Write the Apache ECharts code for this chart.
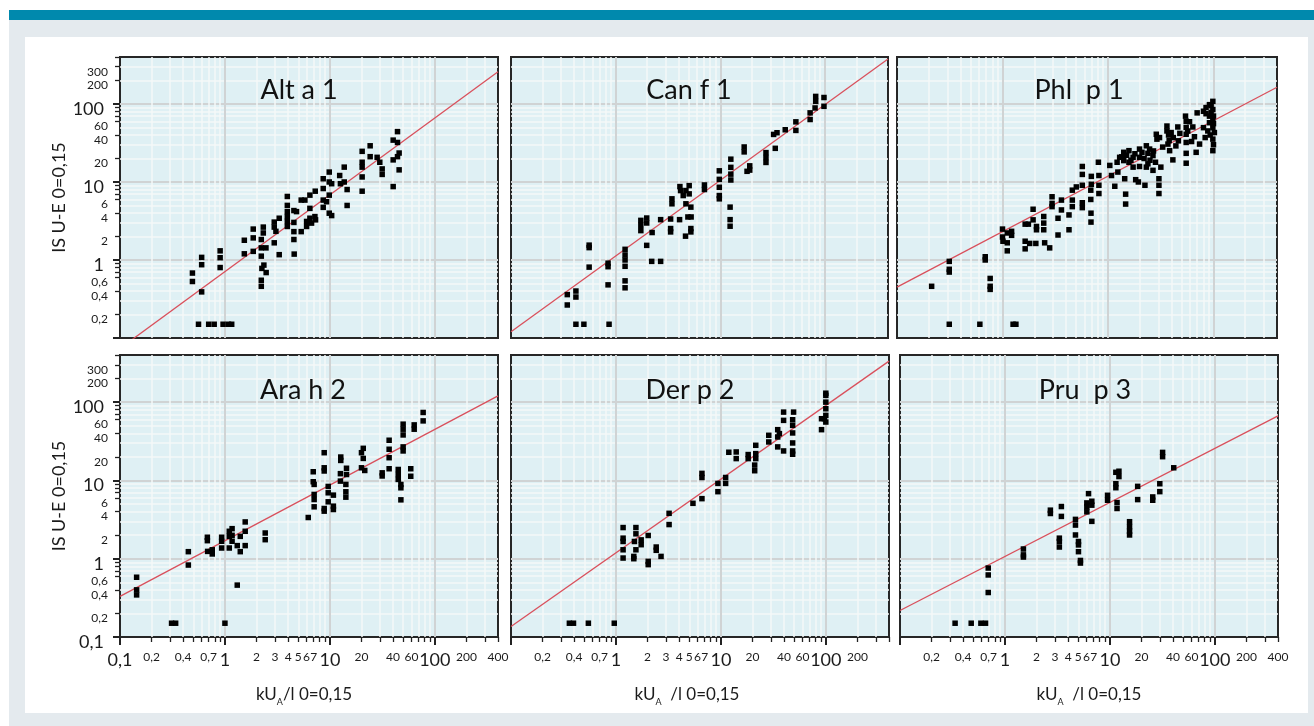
<!DOCTYPE html>
<html><head><meta charset="utf-8">
<script src="https://cdn.jsdelivr.net/npm/echarts@6/dist/echarts.min.js"></script>
<style>
html,body{margin:0;padding:0;width:1314px;height:726px;background:#fff;overflow:hidden}
#bar{position:absolute;left:9px;top:10px;width:1305px;height:10px;background:#0089ad}
#frame{position:absolute;left:9px;top:20px;width:1305px;height:706px;background:#e4eaee}
#inner{position:absolute;left:25px;top:37px;width:1283px;height:676px;background:#fff}
#chart{position:absolute;left:0;top:0;width:1314px;height:726px}
</style></head><body>
<div id="bar"></div><div id="frame"></div><div id="inner"></div><div id="chart"></div>
<script>
// ---------- data ----------
const panelTitles = ['Alt a 1', 'Can f 1', 'Phl  p 1', 'Ara h 2', 'Der p 2', 'Pru  p 3'];

const altA1 = [
[0.56,0.15],[0.70,0.15],[0.79,0.15],[0.96,0.15],[1.08,0.15],[1.16,0.15],
[0.49,0.68],[0.49,0.53],[0.60,1.08],[0.60,0.87],[0.60,0.39],[0.90,1.31],[0.90,1.07],[0.90,0.80],
[1.53,1.79],[1.53,1.20],[1.86,2.49],[1.86,1.92],[1.86,1.29],[2.22,1.83],[2.22,1.43],[2.22,1.12],[2.32,2.64],[2.32,2.22],[2.46,1.43],[2.25,0.78],[2.35,0.86],[2.47,0.69],[2.22,0.55],[2.22,0.46],
[2.95,3.06],[2.95,2.64],[3.06,2.33],[2.95,1.66],[3.29,3.43],[3.29,1.17],
[3.93,6.52],[3.93,5.01],[3.93,4.17],[3.93,3.6],[3.93,3.12],[3.93,2.69],
[4.54,4.30],[4.81,4.17],[4.54,3.03],[4.54,2.31],[4.54,1.83],[4.57,1.19],
[5.33,2.31],[5.33,5.86],[5.78,5.86],[6.0,3.12],[6.0,2.69],[6.45,6.78],[6.45,4.59],[6.45,3.43],[6.69,2.97],[7.25,7.62],[7.2,3.6],[7.3,3.27],
[8.64,11.0],[8.64,8.24],[8.64,5.86],[8.64,4.73],[9.29,5.58],[9.86,13.4],[9.86,10],[9.86,6.78],[9.86,3.98],[10.4,9.5],[10.4,3.71],
[12.4,12.1],[12.6,9.5],[13.7,15.5],[13.7,10],[14.6,8.0],[14.6,5.0],
[20.3,24.7],[20.3,17.9],[20.3,15.5],[20.3,11.6],[20.3,7.62],[24.2,29.1],[24.2,21.1],[28.2,20.7],[29.9,17.9],[31.5,14.7],[31.5,12.5],
[40.1,34.4],[44.1,44.2],[44.1,32.1],[45.7,23.5],[44.1,21.1],[40.1,19.2],[45.7,14.3],[40.1,8.73]
];

const canF1 = [
[0.345,0.36],[0.345,0.265],[0.417,0.40],[0.417,0.335],[0.417,0.15],[0.497,0.15],[0.558,1.55],[0.558,1.44],[0.558,0.81],
[0.846,0.91],[0.846,0.82],[0.846,0.48],[0.865,0.15],[1.23,1.37],[1.23,1.16],[1.23,1.0],[1.23,0.83],[1.23,0.54],[1.23,0.44],
[1.74,3.22],[1.74,2.79],[1.74,2.38],[1.98,3.45],[1.98,2.98],[1.98,1.54],[2.23,2.25],[2.21,0.96],[2.69,3.29],[2.69,0.96],
[3.35,3.35],[3.35,2.53],[3.35,2.29],[3.45,6.08],[3.45,5.25],[4.08,3.29],[4.11,8.73],[4.17,7.76],[4.42,6.7],[4.69,7.76],[4.69,5.25],[4.90,3.56],[5.04,8.98],[5.04,7.04],[5.23,4.76],[5.23,2.53],[5.23,2.29],[4.65,2.02],[5.26,3.56],
[7.05,9.16],[7.05,8.0],[9.78,13.9],[9.78,10.8],[9.78,8.55],[9.78,6.7],[9.78,6.08],[12.6,19.6],[12.6,15.4],[12.6,12.6],[12.6,10.6],[12.4,4.76],[12.4,3.29],[12.4,2.71],
[16.9,28.1],[16.9,24.3],[18.0,13.7],[19.1,16.1],[19.1,14.2],[27.3,23.8],[27.3,20.6],[27.3,17.8],[32.3,40.7],[33.5,27.0],[34.8,42.8],[41.7,46.7],[52.7,59.0],[52.7,45.8],
[72.1,76.9],[72.1,63.2],[80.4,88.9],[81.5,125],[81.5,108],[97.8,121],[97.8,93.3]
];

const phlP1 = [
[0.213,0.46],[0.313,0.96],[0.313,0.76],[0.313,0.70],[0.313,0.15],[0.61,0.15],[1.26,0.15],[1.34,0.15],
[0.686,1.10],[0.686,1.0],[0.764,0.58],[0.764,0.46],[0.764,0.42],
[1.0,2.49],[1.0,1.97],[1.01,1.74],[1.11,2.22],[1.11,1.66],[1.11,1.31],[1.22,2.33],[1.22,2.07],
[1.64,2.88],[1.64,1.74],[1.64,1.39],[1.76,2.88],[1.81,1.63],[1.95,4.47],[1.95,3.27],[2.07,1.63],[2.10,2.69],[2.10,2.44],
[2.46,3.61],[2.46,2.97],[2.46,2.44],[2.51,1.66],[2.80,1.43],[2.95,6.46],[2.95,5.32],[2.95,4.83],
[3.36,3.43],[3.36,2.09],[3.62,5.86],[3.62,4.38],[4.27,3.78],[4.27,2.44],[4.59,7.85],[4.59,5.86],[4.59,4.83],[5.01,8.64],
[5.71,15.8],[5.71,12.5],[5.71,9.07],[5.71,5.42],[5.71,4.69],[6.95,11.8],[6.95,9.34],[6.87,7.85],[6.87,5.97],[6.9,3.98],[6.9,3.06],
[8.11,17.9],[8.2,12.1],[8.2,9.07],[8.2,7.11],[10.4,16.3],[10.8,12.1],[11.6,8.81],[12.2,17.9],[12.4,13.4],[12.9,20.7],
[14.1,24.0],[14.1,18.8],[14.4,11.0],[14.7,6.98],[14.7,5.21],[15.8,25.2],[15.8,17.9],[17.3,20.7],[17.3,15.5],[18.3,10.7],[19.4,10],
[19.9,26.4],[19.9,20.7],[19.9,15.8],[22.4,9.07],[23.1,29.1],[23.1,15.5],[23.9,23.3],[23.9,17.1],[24.8,26.4],[26.7,21.8],[26.7,14.1],[28.2,17.9],
[13.5,21],[15,22],[16.5,19],[18,23],[21,24],[22,20],[25,19],[27,25],[33,28],
[30.4,11.0],[30.4,9.07],[30.4,7.11],[31.7,15.5],[28.7,40.9],[29.1,35.4],[30.8,37.1],
[36.2,52.1],[36.2,45.1],[37.0,30.6],[38.4,25.2],[41.2,19.2],[41.6,37.1],[39.7,43],[45.9,50.7],[46.5,33.7],[37.5,40],[38,34],[44,29],[48,42],
[54.3,69.8],[55.1,40.9],[55.1,32.1],[55.1,23.3],[55.1,17.4],[55.1,60],[55.1,50],[57,45],[59.3,59.2],[63.7,50.7],[62,33],[66,38],[68.5,24.0],[70.0,76.9],[73.8,30.6],
[80.4,80.7],[80.4,49.7],[83.4,37.1],[85,90],[85,75],[88.3,45.1],[91.6,98],[91.6,69.8],[91.6,57.5],[93,40],[95,95],[95,78],
[98.6,108],[98.6,84.8],[98.6,63.4],[98.6,49.7],[98.6,35.4],[98.6,25.2],[100,70],[100,56],[100,30],[102,43.0]
];

const araH2 = [
[0.144,0.58],[0.144,0.40],[0.144,0.345],[0.31,0.15],[0.339,0.15],[1.0,0.15],
[0.448,1.23],[0.448,0.83],[0.68,1.88],[0.68,1.70],[0.684,1.24],[0.757,1.30],[0.757,1.15],[0.93,1.88],[0.93,1.67],[0.93,1.37],
[1.10,2.24],[1.10,1.93],[1.10,1.37],[1.17,2.42],[1.17,1.99],[1.17,1.67],[1.31,1.47],[1.31,0.46],[1.40,1.93],[1.40,1.23],[1.56,2.95],[1.56,2.24],[1.56,1.47],[2.42,2.13],[2.42,1.75],
[6.22,3.36],[6.94,12.9],[6.94,9.62],[7.08,8.89],[7.08,6.62],[7.08,5.70],[7.08,4.60],[8.83,22.6],[8.83,14.5],[8.83,13.2],[8.83,4.38],[8.83,4.05],
[9.64,8.38],[9.64,6.95],[9.64,5.33],[10.8,6.49],[10.8,4.69],[10.8,4.25],[12.7,19.9],[12.7,18.0],[12.6,12.2],[12.6,9.8],[14.4,14.3],[14.4,11.9],[14.2,8.89],[14.2,7.16],[14.2,6.11],
[20.0,22.6],[20.8,25.7],[20.8,19.1],[20.0,14.5],[21.5,13.4],[31.5,12.5],[31.5,11.4],[36.7,32.6],[36.7,25.0],[36.7,19.5],[36.7,14.1],
[44.8,13.8],[44.8,11.9],[44.8,10.3],[47.5,8.89],[47.5,8.05],[47.5,5.65],[49.9,52.3],[49.9,45.1],[49.9,38.1],[49.9,26.8],[49.9,23.8],[59.0,14.1],[59.0,11.3],[63.6,51.2],[63.6,45.1],[77.4,73.8],[77.4,57.6]
];

const derP2 = [
[0.36,0.15],[0.394,0.15],[0.546,0.15],[0.964,0.15],
[1.17,2.50],[1.17,1.83],[1.17,1.66],[1.17,1.30],[1.17,1.02],[1.55,2.50],[1.55,2.08],[1.50,1.66],[1.55,1.30],[1.48,1.07],[1.48,1.0],
[1.74,1.74],[1.74,1.51],[2.03,1.98],[2.03,0.925],[2.03,0.84],[2.42,1.41],[2.42,1.28],[2.69,1.07],[3.21,3.80],[3.21,2.73],
[5.42,5.10],[6.6,12.3],[6.6,10.9],[6.6,5.85],[9.37,9.16],[9.37,7.18],[11.1,10.9],[11.1,9.16],
[11.9,22.9],[14.0,23.1],[14.0,19.0],[18.2,21.4],[18.2,19.0],[21.5,28.1],[21.5,22.0],[21.5,19.0],[21.0,15.7],[21.0,13.3],
[28.6,37.7],[28.6,31.0],[34.8,44.5],[34.8,35.9],[34.8,26.8],[36.1,39.6],[39.6,74.6],[39.6,58.5],[39.6,23.8],
[49.3,74.6],[48.3,59.6],[48.3,50.5],[48.3,40.4],[48.3,30.1],[48.3,23.8],[48.3,21.6],
[91.0,61.4],[91.0,44.5],[97,61.4],[100,130],[100,122],[100,100],[100,82.3],[100,67.7],[100,55.7]
];

const pruP3 = [
[0.335,0.15],[0.477,0.15],[0.59,0.15],[0.653,0.15],[0.693,0.76],[0.693,0.62],[0.693,0.37],
[1.50,1.33],[1.50,1.12],[1.50,1.05],[2.71,4.17],[2.71,3.78],[3.45,4.64],[3.45,3.47],[3.30,1.83],[3.30,1.66],[3.30,1.41],
[4.70,3.18],[4.70,2.69],[4.70,2.01],[5.02,1.66],[5.02,1.50],[5.02,1.23],[5.24,0.95],[5.24,0.88],
[6.26,6.78],[6.03,5.16],[6.03,4.59],[6.03,3.97],[6.73,5.42],[6.73,4.83],[6.73,3.0],
[9.5,6.46],[9.5,5.58],[11.4,12.7],[11.4,9.07],[11.4,8.07],[12.2,13.1],[12.2,11.2],[11.7,5.21],[11.7,4.38],
[15.4,2.97],[15.4,2.57],[15.4,2.25],[15.4,2.01],[18.4,8.4],[18.4,5.69],[25.6,6.15],[25.6,5.58],[29.9,9.07],[29.9,7.19],[31.8,22.8],[31.8,20.1],[40.6,14.5]
];

// regression lines: end points read at the left (0,1) and right (400) plot edges
const regAltA1 = [[0.1, 0.0735], [400, 259]];
const regCanF1 = [[0.1, 0.12], [400, 376]];
const regPhlP1 = [[0.1, 0.448], [400, 164]];
const regAraH2 = [[0.1, 0.33], [400, 120]];
const regDerP2 = [[0.1, 0.136], [400, 334]];
const regPruP3 = [[0.1, 0.218], [400, 66.9]];

// axis values
const majorGridValues = [1, 10, 100];
const minorGridValues = [0.2,0.3,0.4,0.5,0.6,0.7,0.8,0.9,2,3,4,5,6,7,8,9,20,30,40,50,60,70,80,90,200,300];
const decadeTickValues = [0.1, 1, 10, 100];
const xMinorTickValues = [0.2,0.3,0.4,0.5,0.6,0.7,0.8,0.9,2,3,4,5,6,7,8,9,20,30,40,50,60,70,80,90,200,300,400];
const yMinorTickValues = [0.2,0.4,0.6,0.7,0.8,0.9,2,4,6,7,8,9,20,40,60,70,80,90,200,300,400];
const xLabelsLeft = [0.1,0.2,0.4,0.7,1,2,3,4,5,6,7,10,20,40,60,100,200,400];
const xLabelsMid = [0.2,0.4,0.7,1,2,3,4,5,6,7,10,20,40,60,100,200];
const xLabelsRight = [0.2,0.4,0.7,1,2,3,4,5,6,7,10,20,40,60,100,200,400];
const yLabelsTop = [0.2,0.4,0.6,1,2,4,6,10,20,40,60,100,200,300];
const yLabelsBottom = [0.1,0.2,0.4,0.6,1,2,4,6,10,20,40,60,100,200,300];
const bigLabelValues = [0.1, 1, 10, 100];
const yAxisTitle = 'IS U-E 0=0,15';
const xAxisTitleLeft = '{n|kU}{a|A}{n|/l 0=0,15}';
const xAxisTitleOther = '{n|kU}{a|A}{n|  /l 0=0,15}';

// ---------- layout ----------
const FONT = 'Lato';
const panels = [
  {title: panelTitles[0], data: altA1, reg: regAltA1, grid: {left: 120, top: 57, width: 378, height: 281}, row: 0, col: 0, tx: 299, ty: 90},
  {title: panelTitles[1], data: canF1, reg: regCanF1, grid: {left: 511, top: 57, width: 377, height: 281}, row: 0, col: 1, tx: 689, ty: 90},
  {title: panelTitles[2], data: phlP1, reg: regPhlP1, grid: {left: 897, top: 57, width: 380, height: 281}, row: 0, col: 2, tx: 1079, ty: 90},
  {title: panelTitles[3], data: araH2, reg: regAraH2, grid: {left: 120, top: 355, width: 378, height: 282}, row: 1, col: 0, tx: 303, ty: 390},
  {title: panelTitles[4], data: derP2, reg: regDerP2, grid: {left: 511, top: 355, width: 378, height: 282}, row: 1, col: 1, tx: 690, ty: 390},
  {title: panelTitles[5], data: pruP3, reg: regPruP3, grid: {left: 900, top: 355, width: 378, height: 282}, row: 1, col: 2, tx: 1085, ty: 390}
];

function numText(v) { return String(+(+v).toPrecision(6)).replace('.', ','); }
function isBig(v) { return bigLabelValues.some(b => Math.abs(b - v) < 1e-9); }

function baseAxis(gridIndex, position, extra) {
  return Object.assign({
    type: 'log', logBase: 10, min: 0.1, max: 400, gridIndex: gridIndex, position: position,
    silent: true, axisLine: {show: false}, axisTick: {show: false}, axisLabel: {show: false},
    splitLine: {show: false}, minorTick: {show: false}, minorSplitLine: {show: false}
  }, extra);
}

const xAxes = [], yAxes = [], series = [], grids = [], graphics = [];
const TEXT = '#1b1b1b';

panels.forEach((p, i) => {
  grids.push(Object.assign({show: true, backgroundColor: '#dff0f4', borderColor: '#262626', borderWidth: 2}, p.grid));

  // X axes
  const xMain = xAxes.length;
  xAxes.push(baseAxis(i, 'bottom', {
    axisTick: {show: false, customValues: minorGridValues},
    splitLine: {show: true, lineStyle: {color: '#f4f8f9', width: 1.5}}
  }));
  const xLabelVals = p.col === 0 ? xLabelsLeft : (p.col === 1 ? xLabelsMid : xLabelsRight);
  xAxes.push(baseAxis(i, 'bottom', {
    axisTick: {show: false, customValues: majorGridValues},
    splitLine: {show: true, lineStyle: {color: '#d0d3d4', width: 2}},
    axisLabel: p.row === 1 ? {
      show: true, customValues: xLabelVals, margin: 14, color: TEXT, fontFamily: FONT,
      formatter: v => isBig(v) ? '{b|' + numText(v) + '}' : '{s|' + numText(v) + '}',
      rich: {b: {fontSize: 18, fontFamily: FONT, color: TEXT}, s: {fontSize: 12, fontFamily: FONT, color: TEXT}}
    } : {show: false},
    name: p.row === 1 ? (p.col === 0 ? xAxisTitleLeft : xAxisTitleOther) : '',
    nameLocation: 'middle', nameGap: 46,
    nameTextStyle: {
      color: TEXT, fontFamily: FONT, fontSize: 17,
      padding: p.col === 0 ? [0, 10, 0, 0] : (p.col === 1 ? [0, 26, 0, 0] : [0, 0, 0, 0]),
      rich: {
        n: {fontSize: 17, fontFamily: FONT, color: TEXT, lineHeight: 24},
        a: {fontSize: 9, fontFamily: FONT, color: TEXT, lineHeight: 10, verticalAlign: 'bottom'}
      }
    }
  }));
  const xMajorIdx = xMain + 1;
  if (p.row === 1) {
    xAxes.push(baseAxis(i, 'bottom', {
      axisTick: {show: true, customValues: xMinorTickValues, length: 5, lineStyle: {color: '#222', width: 1.3}}
    }));
    xAxes.push(baseAxis(i, 'bottom', {
      axisTick: {show: true, customValues: decadeTickValues, length: 8, lineStyle: {color: '#222', width: 2}}
    }));
  }

  // Y axes
  const yMain = yAxes.length;
  yAxes.push(baseAxis(i, 'left', {
    axisTick: {show: false, customValues: minorGridValues},
    splitLine: {show: true, lineStyle: {color: '#f4f8f9', width: 1.5}}
  }));
  yAxes.push(baseAxis(i, 'left', {
    axisTick: {show: false, customValues: majorGridValues},
    splitLine: {show: true, lineStyle: {color: '#d0d3d4', width: 2}},
    axisLabel: p.col === 0 ? {
      show: true, customValues: p.row === 0 ? yLabelsTop : yLabelsBottom, margin: 12, color: TEXT, fontFamily: FONT,
      formatter: v => isBig(v) ? '{b|' + numText(v) + '}' : '{s|' + numText(v) + '}',
      rich: {
        b: {fontSize: 18, fontFamily: FONT, color: TEXT, padding: [10, 4, 0, 0]},
        s: {fontSize: 12, fontFamily: FONT, color: TEXT, padding: [10, 0, 0, 0]}
      }
    } : {show: false},
    name: p.col === 0 ? yAxisTitle : '',
    nameLocation: 'middle', nameGap: 52, nameRotate: 90,
    nameTextStyle: {color: TEXT, fontFamily: FONT, fontSize: 18}
  }));
  const yMajorIdx = yMain + 1;
  if (p.col === 0) {
    yAxes.push(baseAxis(i, 'left', {
      axisTick: {show: true, customValues: yMinorTickValues, length: 5, lineStyle: {color: '#222', width: 1.3}}
    }));
    yAxes.push(baseAxis(i, 'left', {
      axisTick: {show: true, customValues: decadeTickValues, length: 7, lineStyle: {color: '#222', width: 2}}
    }));
  }

  series.push({
    type: 'line', name: p.title + ' fit', xAxisIndex: xMajorIdx, yAxisIndex: yMajorIdx,
    data: p.reg, showSymbol: false, symbol: 'none', clip: true, silent: true, z: 3,
    lineStyle: {color: '#d9505c', width: 1.3}
  });
  series.push({
    type: 'scatter', name: p.title, xAxisIndex: xMajorIdx, yAxisIndex: yMajorIdx,
    data: p.data, symbol: 'rect', symbolSize: 5.5, silent: true, z: 4,
    itemStyle: {color: '#000', opacity: 1}
  });

  graphics.push({
    type: 'text', x: p.tx, y: p.ty, silent: true, z: 10,
    style: {text: p.title, fontSize: 27, fontFamily: FONT, fill: '#111', align: 'center', verticalAlign: 'middle'}
  });
});

const chart = echarts.init(document.getElementById('chart'), null, {renderer: 'canvas'});
chart.setOption({
  animation: false,
  backgroundColor: 'transparent',
  textStyle: {fontFamily: FONT},
  grid: grids,
  xAxis: xAxes,
  yAxis: yAxes,
  series: series,
  graphic: graphics
});
</script></body></html>
